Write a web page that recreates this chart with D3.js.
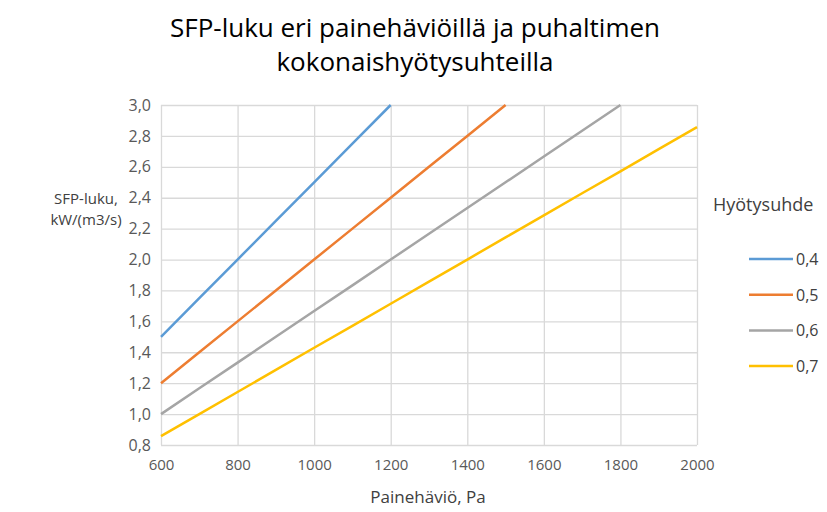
<!DOCTYPE html>
<html>
<head>
<meta charset="utf-8">
<script src="https://cdn.jsdelivr.net/npm/d3@7"></script>
<style>
  body { margin: 0; background: #fff; }
  text { font-family: "Open Sans", "Noto Sans", sans-serif; }
</style>
</head>
<body>
<script>
// pressure drop, Pa
var pressures = [600, 700, 800, 900, 1000, 1100, 1200, 1300, 1400, 1500, 1600, 1700, 1800, 1900, 2000]
// efficiency series
var efficiencies = ['0,4', '0,5', '0,6', '0,7']
var sfp04 = [1.5, 1.75, 2.0, 2.25, 2.5, 2.75, 3.0]
var sfp05 = [1.2, 1.4, 1.6, 1.8, 2.0, 2.2, 2.4, 2.6, 2.8, 3.0]
var sfp06 = [1.0, 1.167, 1.333, 1.5, 1.667, 1.833, 2.0, 2.167, 2.333, 2.5, 2.667, 2.833, 3.0]
var sfp07 = [0.857, 1.0, 1.143, 1.286, 1.429, 1.571, 1.714, 1.857, 2.0, 2.143, 2.286, 2.429, 2.571, 2.714, 2.857]
var xTicks = [600, 800, 1000, 1200, 1400, 1600, 1800, 2000]
var yTicks = [0.8, 1.0, 1.2, 1.4, 1.6, 1.8, 2.0, 2.2, 2.4, 2.6, 2.8, 3.0]

var colors = ['#5B9BD5', '#ED7D31', '#A5A5A5', '#FFC000']
var seriesVals = [sfp04, sfp05, sfp06, sfp07]

var width = 827, height = 512
var pLeft = 161, pRight = 697, pTop = 105, pBottom = 445

var svg = d3.select('body').append('svg')
    .attr('width', width)
    .attr('height', height)

var x = d3.scaleLinear().domain([600, 2000]).range([pLeft, pRight])
var y = d3.scaleLinear().domain([0.8, 3.0]).range([pBottom, pTop])
var fmt = d => d3.format('.1f')(d).replace('.', ',')

// gridlines + tick labels
svg.append('g')
    .attr('transform', 'translate(0,' + pBottom + ')')
    .call(d3.axisBottom(x).tickValues(xTicks).tickSize(-(pBottom - pTop)).tickFormat(d => d))
    .call(g => g.select('.domain').remove())
    .call(g => g.selectAll('line').attr('stroke', '#D9D9D9').attr('stroke-width', 1.3))
    .call(g => g.selectAll('text').attr('fill', '#595959').attr('font-size', 15).attr('y', 14).attr('dy', '0.71em'))

svg.append('g')
    .attr('transform', 'translate(' + pLeft + ',0)')
    .call(d3.axisLeft(y).tickValues(yTicks).tickSize(-(pRight - pLeft)).tickFormat(fmt))
    .call(g => g.select('.domain').remove())
    .call(g => g.selectAll('line').attr('stroke', '#D9D9D9').attr('stroke-width', 1.3))
    .call(g => g.selectAll('text').attr('fill', '#595959').attr('font-size', 16).attr('x', -10))

// lines
var line = d3.line()
    .x((d, i) => x(pressures[i]))
    .y(d => y(d))

seriesVals.forEach((vals, k) => {
    svg.append('path')
        .datum(vals)
        .attr('d', line)
        .attr('fill', 'none')
        .attr('stroke', colors[k])
        .attr('stroke-width', 2.5)
})

// title
svg.append('text').attr('x', 415).attr('y', 37).attr('text-anchor', 'middle')
    .attr('font-size', 26).attr('fill', '#000').text('SFP-luku eri painehäviöillä ja puhaltimen')
svg.append('text').attr('x', 415).attr('y', 71).attr('text-anchor', 'middle')
    .attr('font-size', 26).attr('fill', '#000').text('kokonaishyötysuhteilla')

// axis titles
svg.append('text').attr('x', 86).attr('y', 204).attr('text-anchor', 'middle')
    .attr('font-size', 15).attr('fill', '#404040').text('SFP-luku,')
svg.append('text').attr('x', 86).attr('y', 225).attr('text-anchor', 'middle')
    .attr('font-size', 15).attr('fill', '#404040').text('kW/(m3/s)')
svg.append('text').attr('x', 428).attr('y', 503).attr('text-anchor', 'middle')
    .attr('font-size', 17).attr('fill', '#404040').text('Painehäviö, Pa')

// legend
svg.append('text').attr('x', 713).attr('y', 211)
    .attr('font-size', 18).attr('fill', '#404040').text('Hyötysuhde')
efficiencies.forEach((e, k) => {
    var ly = 259 + k * 35.7
    svg.append('line').attr('x1', 749).attr('x2', 793).attr('y1', ly).attr('y2', ly)
        .attr('stroke', colors[k]).attr('stroke-width', 2.5)
    svg.append('text').attr('x', 796).attr('y', ly + 6)
        .attr('font-size', 16).attr('fill', '#404040').text(e)
})
</script>
</body>
</html>
